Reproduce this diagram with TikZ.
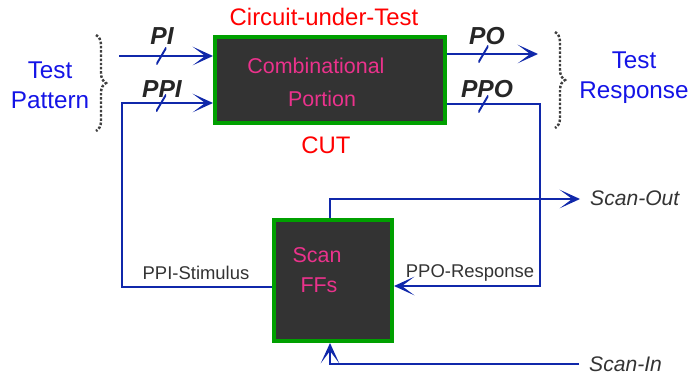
\documentclass[tikz,border=0pt]{standalone}
\usepackage{fontspec}
\setmainfont{Liberation Sans}
\usetikzlibrary{arrows.meta,decorations.pathreplacing}

\definecolor{wireblue}{RGB}{16,40,170}
\definecolor{boxgreen}{RGB}{0,160,0}
\definecolor{boxgray}{RGB}{51,51,51}
\definecolor{txtpink}{RGB}{235,50,140}
\definecolor{txtblue}{RGB}{20,20,230}

\begin{document}
\begin{tikzpicture}[x=0.02cm,y=-0.02cm,
    wire/.style={draw=wireblue,line width=1.1pt},
    arr/.style={wire,-{Stealth[open,length=11.5pt,width=10.5pt,inset=7pt]}},
    bxcore/.style={fill=boxgray,draw=boxgreen,line width=2.3pt,inner sep=0pt},
    slashmark/.style={inner sep=0pt,minimum width=0.2cm,minimum height=0.34cm,
      path picture={\draw[-,wireblue,line width=1.1pt] (path picture bounding box.south west) -- (path picture bounding box.north east);}},
    sig/.style={font=\fontsize{14}{16}\selectfont\bfseries\itshape,text=black!85},
    redtxt/.style={font=\fontsize{13.6}{15}\selectfont,text=red},
    pinktxt/.style={font=\fontsize{12.2}{14}\selectfont,text=txtpink},
    bluetxt/.style={font=\fontsize{13.8}{17}\selectfont,text=txtblue,align=center},
    graytxt/.style={font=\fontsize{10.5}{12}\selectfont,text=black!80},
    scantxt/.style={font=\fontsize{12}{14}\selectfont\itshape,text=black!80,anchor=west},
    dotbrace/.style={draw=black!75,line width=1.4pt,dash pattern=on 1.4pt off 1pt,decorate,decoration={brace,amplitude=0.2cm}}
  ]
  \useasboundingbox (0,0) rectangle (689,376);

  % the two blocks
  \node[bxcore,minimum width=4.6cm,minimum height=1.72cm] (cut) at (330,80) {};
  \node[bxcore,minimum width=2.36cm,minimum height=2.42cm] (scan) at (333,280.5) {};

  % texts on the blocks
  \node[redtxt] (title) at (324,17) {Circuit-under-Test};
  \node[redtxt] (cutname) at (326,145) {CUT};
  \node[pinktxt] (comb) at (316,66) {Combinational};
  \node[pinktxt] (portion) at (322,99) {Portion};
  \node[pinktxt] (scanw) at (317,255) {Scan};
  \node[pinktxt] (ffs) at (319,285) {FFs};

  % outside texts
  \node[bluetxt] (tpat) at (50,85) {Test\\Pattern};
  \node[bluetxt] (tresp) at (634,78) {Test\\Response};
  \node[sig] (pi) at (162,36) {PI};
  \node[sig] (ppi) at (162,89) {PPI};
  \node[sig] (po) at (487,36) {PO};
  \node[sig] (ppo) at (487,89) {PPO};
  \node[graytxt] (ppistim) at (196,273) {PPI-Stimulus};
  \node[graytxt] (pporesp) at (470,273) {PPO-Response};
  \node[scantxt] (sout) at (584,198) {Scan-Out};
  \node[scantxt] (sin) at (583,364) {Scan-In};

  % free ends
  \coordinate (pistart) at (119,56);
  \coordinate (poend) at (538,54);
  \coordinate (soutend) at (580,199);
  \coordinate (sinstart) at (579,364);

  % wires
  \draw[arr] (pistart) -- node[slashmark,pos=.45]{} (cut.west |- pistart);
  \draw[arr] (cut.east |- poend) -- node[slashmark,pos=.4]{} (poend);
  \draw[arr] (scan.west |- 0,287) -- (122,287) -- (122,103) -- node[slashmark,pos=.43]{} (cut.west |- 0,103);
  \draw[arr] (cut.east |- 0,104) -- node[slashmark,pos=.39]{} (540,104) -- (540,286) -- (scan.east |- 0,286);
  \draw[arr] (scan.north -| 330,0) -- (330,199) -- (soutend);
  \draw[arr] (sinstart) -- (330,364) -- (scan.south -| 330,0);

  % braces
  \draw[dotbrace] (96,35) -- (96,131);
  \draw[dotbrace] (555,32) -- (555,128);
\end{tikzpicture}
\end{document}
